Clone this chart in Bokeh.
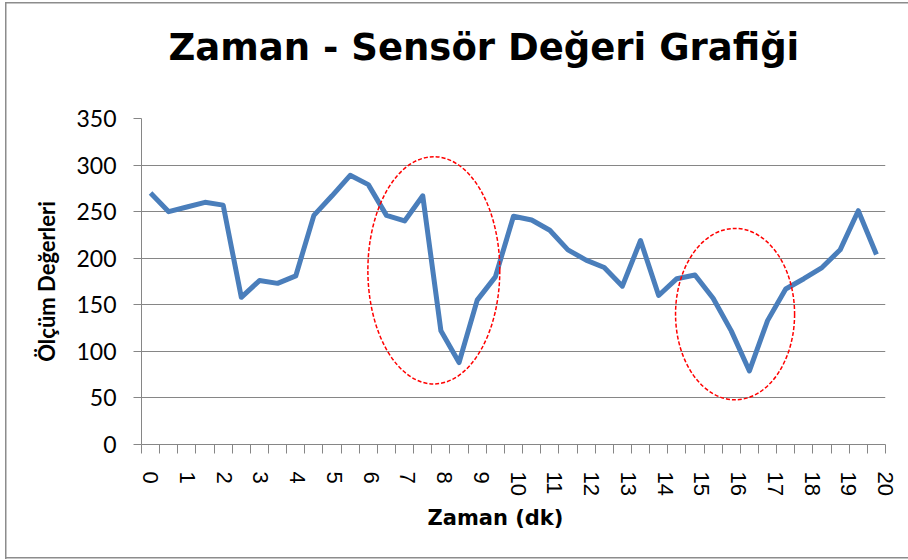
from bokeh.plotting import figure
from bokeh.models import Range1d, FixedTicker, CustomJSTickFormatter, Title
from bokeh.embed import file_html
from bokeh.resources import INLINE

# --- data ---
ornek_no = list(range(41))  # 41 samples, one per category slot
olcum = [270, 250, 255, 260, 257, 158, 176, 173, 181, 246,
         267, 289, 279, 246, 240, 267, 122, 88, 155, 180,
         245, 241, 230, 209, 198, 190, 170, 219, 160, 178,
         182, 157, 122, 79, 133, 167, 178, 190, 209, 251, 204]
etiketler = [str(k) for k in range(21)]
y_ticks = [0, 50, 100, 150, 200, 250, 300, 350]

# highlighted regions (category units, value units)
elips_x = [16.11, 32.71]
elips_y = [187, 140]
elips_w = [7.27, 6.56]
elips_h = [244, 184]

x = [n + 0.5 for n in ornek_no]
etiket_konum = [0.5 + k * 2.025 for k in range(len(etiketler))]

GRAY = "#868686"
BLUE = "#4A7EBB"
BORDER = "#8C8C8C"

p = figure(width=908, height=560, output_backend="svg", toolbar_location=None,
           x_range=Range1d(0, 41), y_range=Range1d(0, 350),
           min_border_left=141, min_border_right=23,
           min_border_top=118, min_border_bottom=116)
p.outline_line_color = None
p.background_fill_color = "white"
p.border_fill_color = None
grad = f"linear-gradient({BORDER},{BORDER})"
p.styles = {
    "background-color": "white",
    "background-image": f"{grad}, {grad}, {grad}",
    "background-position": "5px 2px, 5px 2px, 5px 557px",
    "background-size": "1.5px 557px, 903px 1.5px, 903px 1.5px",
    "background-repeat": "no-repeat",
}

p.title.text = "Zaman - Sensör Değeri Grafiği"
p.title.text_font = "DejaVu Sans"
p.title.text_font_size = "37px"
p.title.text_font_style = "bold"
p.title.text_color = "black"
p.title.align = "left"
p.title.offset = 27
p.title.standoff = 0

# spacer between the title and the plot area
spacer = Title(text=" ", text_font_size="10px", standoff=37)
p.add_layout(spacer, "above")

# grid
p.xgrid.visible = False
p.ygrid.grid_line_color = GRAY
p.ygrid.grid_line_width = 1

# y axis
p.yaxis.ticker = FixedTicker(ticks=y_ticks)
p.yaxis.axis_line_color = GRAY
p.yaxis.major_tick_line_color = GRAY
p.yaxis.major_tick_out = 8
p.yaxis.major_tick_in = 0
p.yaxis.minor_tick_line_color = None
p.yaxis.major_label_text_font = "Lato"
p.yaxis.major_label_text_font_size = "23px"
p.yaxis.major_label_text_color = "black"
p.yaxis.major_label_standoff = 17
p.yaxis.axis_label = "Ölçüm Değerleri"
p.yaxis.axis_label_text_font = "Lato"
p.yaxis.axis_label_text_font_size = "22px"
p.yaxis.axis_label_text_font_style = "bold"
p.yaxis.axis_label_text_color = "black"
p.yaxis.axis_label_standoff = 13

# x axis
p.xaxis.ticker = FixedTicker(ticks=etiket_konum, minor_ticks=list(range(42)))
p.xaxis.formatter = CustomJSTickFormatter(args=dict(labels=etiketler),
                                          code="const i = Math.round((tick - 0.5) / 2.025); return labels[i];")
p.xaxis.axis_line_color = GRAY
p.xaxis.major_tick_out = 0
p.xaxis.major_tick_in = 0
p.xaxis.minor_tick_out = 9
p.xaxis.minor_tick_in = 0
p.xaxis.minor_tick_line_color = GRAY
p.xaxis.major_label_orientation = "vertical"
p.xaxis.major_label_text_font = "Liberation Sans"
p.xaxis.major_label_text_font_size = "22px"
p.xaxis.major_label_text_color = "black"
p.xaxis.major_label_standoff = 18

xt = Title(text="Zaman (dk)", align="left", offset=286, text_font="DejaVu Sans",
           text_font_size="21px", text_font_style="bold", text_color="black", standoff=10)
p.add_layout(xt, "below")

# data line
p.line(x, olcum, line_color=BLUE, line_width=5, line_join="round")

# dashed ellipses
p.ellipse(x=elips_x, y=elips_y, width=elips_w, height=elips_h,
          fill_color=None, line_color="#FF0000", line_width=1.5, line_dash="4 2")

open("out.html", "w").write(file_html(p, INLINE))
